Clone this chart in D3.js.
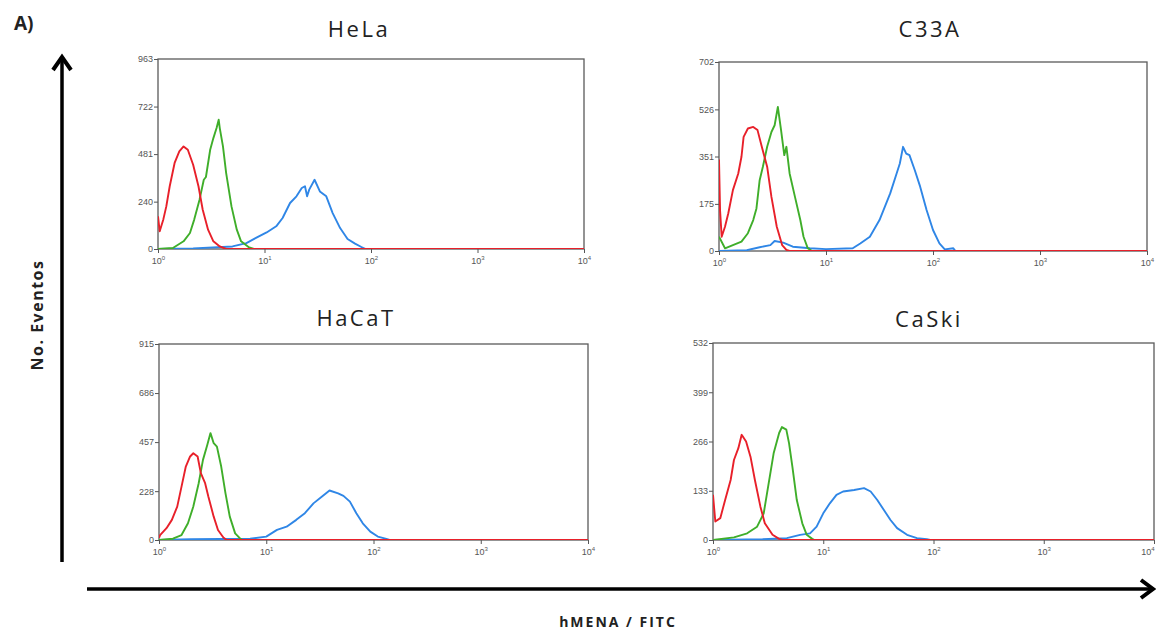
<!DOCTYPE html>
<html>
<head>
<meta charset="utf-8">
<script src="https://cdn.jsdelivr.net/npm/d3@7"></script>
<style>
  body { margin: 0; background: #fff; }
  .tick text { font-family: "Liberation Sans", Arial, sans-serif; }
</style>
</head>
<body>
<div id="chart"></div>
<script>
// x values are log10(FITC intensity), y values are event counts
var xTicks = [1, 10, 100, 1000, 10000];
var colors = ['#2f86e6', '#3fae2a', '#e8202a'];   // blue, green, red

var helaTicks = [0, 240, 481, 722, 963];
var helaBlue = [[0, 0], [0.33, 3], [0.7, 13], [0.83, 30], [0.92, 56], [1.02, 84], [1.11, 115], [1.17, 157],
    [1.24, 233], [1.3, 267], [1.35, 309], [1.38, 318], [1.4, 267], [1.42, 301], [1.47, 351], [1.52, 292],
    [1.58, 267], [1.64, 182], [1.71, 106], [1.78, 51], [1.85, 27], [1.91, 10], [1.95, 0], [4, 0]];
var helaGreen = [[0, 0], [0.14, 5], [0.24, 39], [0.3, 81], [0.34, 149], [0.39, 250], [0.43, 351], [0.45, 365],
    [0.49, 503], [0.52, 562], [0.55, 613], [0.57, 655], [0.58, 613], [0.61, 520], [0.64, 385], [0.69, 216],
    [0.74, 98], [0.78, 39], [0.85, 10], [0.9, 0], [4, 0]];
var helaRed = [[0, 166], [0.016, 90], [0.05, 150], [0.078, 216], [0.11, 318], [0.156, 436], [0.2, 495],
    [0.24, 520], [0.28, 503], [0.33, 427], [0.38, 318], [0.42, 199], [0.47, 98], [0.52, 39], [0.58, 13],
    [0.64, 0], [4, 0]];

var c33aTicks = [0, 175, 351, 526, 702];
var c33aBlue = [[0, 0], [0.26, 3], [0.38, 14], [0.48, 22], [0.52, 37], [0.6, 31], [0.69, 16], [0.85, 10],
    [1.0, 7], [1.25, 10], [1.32, 28], [1.41, 53], [1.5, 115], [1.6, 214], [1.66, 288], [1.69, 325],
    [1.72, 387], [1.75, 362], [1.78, 356], [1.83, 300], [1.88, 239], [1.94, 152], [2.0, 78], [2.06, 28],
    [2.11, 6], [2.19, 10], [2.21, 0], [4, 0]];
var c33aGreen = [[0, 53], [0.056, 10], [0.13, 22], [0.21, 35], [0.27, 66], [0.32, 115], [0.35, 158],
    [0.38, 263], [0.41, 313], [0.45, 387], [0.49, 442], [0.52, 467], [0.55, 535], [0.58, 449], [0.61, 356],
    [0.63, 387], [0.66, 288], [0.71, 201], [0.76, 115], [0.79, 53], [0.83, 10], [0.87, 0], [4, 0]];
var c33aRed = [[0, 340], [0.01, 150], [0.025, 53], [0.056, 90], [0.087, 140], [0.13, 226], [0.18, 288],
    [0.21, 350], [0.23, 424], [0.27, 455], [0.32, 461], [0.36, 449], [0.4, 387], [0.45, 313], [0.49, 201],
    [0.54, 90], [0.59, 22], [0.63, 4], [0.66, 0], [4, 0]];

var hacatTicks = [0, 228, 457, 686, 915];
var hacatBlue = [[0, 0], [0.3, 4], [0.85, 6], [1.0, 16], [1.1, 47], [1.19, 62], [1.28, 94], [1.36, 125],
    [1.44, 171], [1.52, 203], [1.59, 231], [1.67, 218], [1.72, 206], [1.78, 179], [1.84, 125], [1.9, 78],
    [1.97, 39], [2.04, 16], [2.12, 5], [2.15, 0], [4, 0]];
var hacatGreen = [[0, 0], [0.13, 6], [0.21, 23], [0.27, 78], [0.32, 156], [0.37, 265], [0.41, 374],
    [0.45, 444], [0.48, 499], [0.51, 452], [0.54, 436], [0.58, 343], [0.62, 218], [0.66, 109], [0.71, 31],
    [0.76, 5], [0.78, 0], [4, 0]];
var hacatRed = [[0, 10], [0.01, 23], [0.07, 55], [0.12, 94], [0.17, 156], [0.21, 249], [0.25, 343],
    [0.29, 390], [0.32, 405], [0.36, 390], [0.39, 312], [0.43, 265], [0.46, 203], [0.51, 109], [0.55, 47],
    [0.6, 12], [0.63, 0], [4, 0]];

var caskiTicks = [0, 133, 266, 399, 532];
var caskiBlue = [[0, 0], [0.45, 2], [0.67, 5], [0.79, 14], [0.88, 18], [0.94, 36], [1.0, 72], [1.06, 99],
    [1.12, 122], [1.18, 131], [1.28, 135], [1.37, 140], [1.43, 131], [1.49, 108], [1.55, 81], [1.61, 54],
    [1.67, 32], [1.76, 14], [1.85, 5], [1.94, 2], [1.97, 0], [4, 0]];
var caskiGreen = [[0, 0], [0.19, 7], [0.31, 18], [0.4, 36], [0.46, 72], [0.5, 144], [0.55, 234], [0.6, 289],
    [0.625, 305], [0.665, 298], [0.69, 261], [0.72, 198], [0.76, 108], [0.81, 45], [0.85, 14], [0.9, 3],
    [0.92, 0], [4, 0]];
var caskiRed = [[0, 122], [0.021, 50], [0.066, 59], [0.11, 108], [0.16, 162], [0.19, 216], [0.23, 248],
    [0.26, 284], [0.3, 266], [0.34, 225], [0.38, 162], [0.43, 90], [0.47, 45], [0.54, 14], [0.6, 3],
    [0.63, 0], [4, 0]];

var panelNames = ['HeLa', 'C33A', 'HaCaT', 'CaSki'];

// positions of each panel on the page
var layout = [
    {left: 158, right: 584, top: 59, bottom: 249, tx: 359, ty: 37},
    {left: 719, right: 1147, top: 62, bottom: 251, tx: 930, ty: 37},
    {left: 159, right: 588, top: 344, bottom: 540, tx: 356, ty: 326},
    {left: 713, right: 1154, top: 343, bottom: 540, tx: 929, ty: 327}
];

var panels = [
    {ticks: helaTicks, series: [helaBlue, helaGreen, helaRed]},
    {ticks: c33aTicks, series: [c33aBlue, c33aGreen, c33aRed]},
    {ticks: hacatTicks, series: [hacatBlue, hacatGreen, hacatRed]},
    {ticks: caskiTicks, series: [caskiBlue, caskiGreen, caskiRed]}
];

var svg = d3.select('#chart').append('svg')
    .attr('width', 1156)
    .attr('height', 634);

function drawPanel(p, i) {
    var box = layout[i];
    var x = d3.scaleLog().domain([1, 10000]).range([box.left, box.right]);
    var y = d3.scaleLinear().domain([0, p.ticks[p.ticks.length - 1]]).range([box.bottom, box.top]);
    var g = svg.append('g');

    g.append('clipPath').attr('id', 'clip' + i)
        .append('rect')
        .attr('x', box.left).attr('y', box.top - 2)
        .attr('width', box.right - box.left).attr('height', box.bottom - box.top + 2);

    // y axis
    var yAxis = g.append('g')
        .attr('transform', 'translate(' + box.left + ',0)')
        .call(d3.axisLeft(y).tickValues(p.ticks).tickSize(4).tickPadding(1).tickFormat(d3.format('d')));
    yAxis.select('.domain').remove();
    yAxis.selectAll('line').attr('stroke', '#555');
    yAxis.selectAll('text').attr('font-size', 9).attr('fill', '#555');

    // x axis, labels drawn as 10 with superscript
    var xAxis = g.append('g')
        .attr('transform', 'translate(0,' + box.bottom + ')')
        .call(d3.axisBottom(x).tickValues(xTicks).tickSize(4).tickFormat(''));
    xAxis.select('.domain').remove();
    xAxis.selectAll('line').attr('stroke', '#555');
    var lab = xAxis.selectAll('.tick').append('text')
        .attr('y', 15)
        .attr('fill', '#555')
        .attr('font-size', 9)
        .attr('text-anchor', function(d) {
            // keep the last label inside the page
            return x(d) + 8 > 1156 ? 'end' : 'middle';
        });
    lab.append('tspan').text('10');
    lab.append('tspan').attr('dy', -4).attr('font-size', 6)
        .text(function(d) { return Math.round(Math.log10(d)); });

    // histograms
    var line = d3.line()
        .x(function(d) { return x(Math.pow(10, d[0])); })
        .y(function(d) { return y(d[1]); });

    g.append('rect')
        .attr('x', box.left).attr('y', box.top)
        .attr('width', box.right - box.left).attr('height', box.bottom - box.top)
        .attr('fill', 'none')
        .attr('stroke', '#5a5a5a')
        .attr('stroke-width', 1.3);

    g.selectAll('.hist')
        .data(p.series)
        .enter().append('path')
        .attr('class', 'hist')
        .attr('d', line)
        .attr('clip-path', 'url(#clip' + i + ')')
        .attr('fill', 'none')
        .attr('stroke', function(d, k) { return colors[k]; })
        .attr('stroke-width', 1.9)
        .attr('stroke-linejoin', 'round');

    g.append('text')
        .attr('x', box.tx)
        .attr('y', box.ty)
        .attr('text-anchor', 'middle')
        .attr('font-family', '"Open Sans", sans-serif')
        .attr('font-size', 22)
        .attr('letter-spacing', 2.5)
        .attr('fill', '#222')
        .text(panelNames[i]);
}

panels.forEach(drawPanel);

// big arrows
var arrow = svg.append('g')
    .attr('stroke', '#000')
    .attr('fill', 'none')
    .attr('stroke-width', 3.5);
arrow.append('line').attr('x1', 62).attr('y1', 562).attr('x2', 62).attr('y2', 58);
arrow.append('polyline').attr('points', '53,70 62,57 71,70').attr('stroke-width', 4);
arrow.append('line').attr('x1', 87).attr('y1', 589).attr('x2', 1151).attr('y2', 589);
arrow.append('polyline').attr('points', '1141,580 1153,589 1141,598').attr('stroke-width', 4);

svg.append('text')
    .attr('x', 14).attr('y', 30)
    .attr('font-family', '"Open Sans", sans-serif')
    .attr('font-weight', 'bold')
    .attr('font-size', 19)
    .attr('fill', '#222')
    .text('A)');

svg.append('text')
    .attr('transform', 'translate(43,315) rotate(-90)')
    .attr('text-anchor', 'middle')
    .attr('font-family', '"Open Sans", sans-serif')
    .attr('font-weight', 'bold')
    .attr('font-size', 16)
    .attr('letter-spacing', 1.5)
    .attr('fill', '#222')
    .text('No. Eventos');

svg.append('text')
    .attr('x', 618).attr('y', 627)
    .attr('text-anchor', 'middle')
    .attr('font-family', '"Open Sans", sans-serif')
    .attr('font-weight', 'bold')
    .attr('font-size', 14)
    .attr('letter-spacing', 2)
    .attr('fill', '#222')
    .text('hMENA / FITC');
</script>
</body>
</html>
